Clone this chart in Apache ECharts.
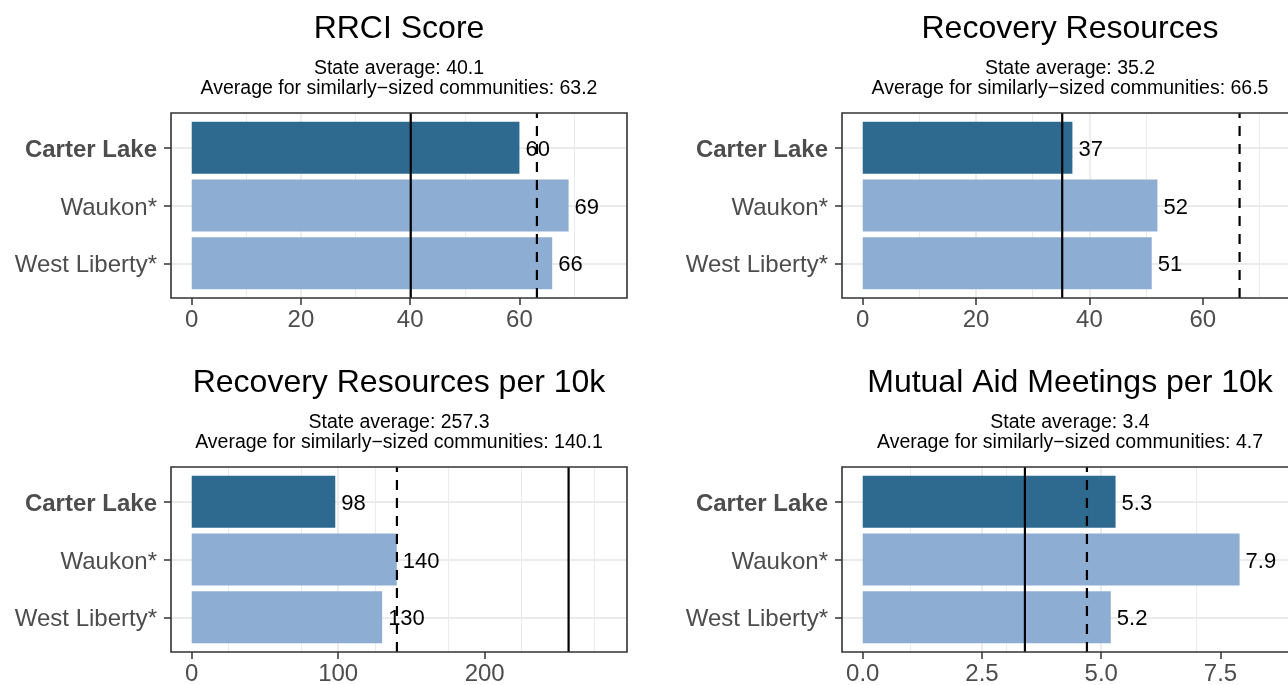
<!DOCTYPE html>
<html>
<head>
<meta charset="utf-8">
<script src="https://cdn.jsdelivr.net/npm/echarts@6/dist/echarts.min.js"></script>
<style>
  html, body { margin: 0; padding: 0; background: #fff; }
  #chart { width: 1288px; height: 685px; }
</style>
</head>
<body>
<div id="chart"></div>
<script>
// communities, Carter Lake is the highlighted one
const categories = ["Carter Lake", "Waukon*", "West Liberty*"];

// bar values per panel
const rrciScore = [60, 69, 66];
const recoveryResources = [37, 52, 51];
const resourcesPer10k = [98, 140, 130];
const meetingsPer10k = [5.3, 7.9, 5.2];

// reference lines (solid = state, dashed = similarly-sized)
const stateAverages = [40.1, 35.2, 257.3, 3.4];
const similarAverages = [63.2, 66.5, 140.1, 4.7];

const panelTitles = [
  "RRCI Score",
  "Recovery Resources",
  "Recovery Resources per 10k",
  "Mutual Aid Meetings per 10k"
];

// x tick labels
const ticks = [
  [0, 20, 40, 60],
  [0, 20, 40, 60],
  [0, 100, 200],
  [0, 2.5, 5, 7.5]
];
const tickDecimals = [0, 0, 0, 1];

const panelValues = [rrciScore, recoveryResources, resourcesPer10k, meetingsPer10k];

const FONT = "Liberation Sans, Arial, Helvetica, sans-serif";
const DARK = "#2e6a8f";
const LIGHT = "#8daed2";
const GRIDLINE = "#ebebeb";
const AXIS_TEXT = "#4d4d4d";

// panel boxes (px), right column runs past the canvas edge like the original
const colLeft = [171, 842];
const rowTop = [113, 467];
const boxW = 456;
const boxH = 185;
const catUnit = boxH / 3.2;

let grids = [], xAxes = [], yAxes = [], series = [], titles = [];

panelValues.forEach(function (vals, i) {
  const left = colLeft[i % 2];
  const top = rowTop[Math.floor(i / 2)];
  const lim = 1.1 * Math.max.apply(null, vals.concat([stateAverages[i], similarAverages[i]]));
  const xmin = -0.05 * lim;
  const xmax = 1.05 * lim;
  const dec = tickDecimals[i];

  titles.push({
    text: panelTitles[i],
    subtext: "State average: " + stateAverages[i].toFixed(1) +
      "\nAverage for similarly\u2212sized communities: " + similarAverages[i].toFixed(1),
    left: left + boxW / 2,
    top: top - 100,
    textAlign: "center",
    itemGap: 14,
    padding: 0,
    textStyle: { fontFamily: FONT, fontSize: 32, fontWeight: "normal", color: "#000" },
    subtextStyle: { fontFamily: FONT, fontSize: 19.5, color: "#000", lineHeight: 20 }
  });

  // frame grid: border, x ticks, vertical gridlines, average lines
  grids.push({
    left: left, top: top, width: boxW, height: boxH,
    show: true, borderColor: "#333", borderWidth: 1.6, z: 10,
    backgroundColor: "transparent",
    outerBoundsMode: "none", containLabel: false
  });
  // bar grid: category rows inset like ggplot's discrete expansion
  grids.push({
    left: left, top: top + 0.6 * catUnit, width: boxW, height: 2 * catUnit,
    outerBoundsMode: "none", containLabel: false
  });

  xAxes.push({
    type: "value", gridIndex: 2 * i, min: xmin, max: xmax,
    axisLine: { show: false, onZero: false },
    axisTick: {
      show: true, length: 7, customValues: ticks[i],
      lineStyle: { color: "#333", width: 1.5 }
    },
    axisLabel: {
      customValues: ticks[i], margin: 10,
      fontFamily: FONT, fontSize: 24, color: AXIS_TEXT,
      formatter: function (v) { return Number(v).toFixed(dec); }
    },
    splitLine: { show: true, showMinLine: false, showMaxLine: false, lineStyle: { color: GRIDLINE, width: 1.8 } },
    minorTick: { show: false, splitNumber: 2 },
    minorSplitLine: { show: true, lineStyle: { color: GRIDLINE, width: 1 } }
  });
  xAxes.push({
    type: "value", gridIndex: 2 * i + 1, min: xmin, max: xmax, show: false
  });

  yAxes.push({ type: "value", gridIndex: 2 * i, min: 0, max: 1, show: false });
  yAxes.push({
    type: "category", gridIndex: 2 * i + 1, data: categories,
    inverse: true, boundaryGap: false,
    axisLine: { show: false, onZero: false },
    axisTick: { show: true, length: 7, lineStyle: { color: "#333", width: 1.5 } },
    axisLabel: {
      margin: 14, fontFamily: FONT, fontSize: 24, color: AXIS_TEXT,
      padding: [5, 0, 0, 0],
      formatter: function (v, idx) { return idx === 0 ? "{b|" + v + "}" : v; },
      rich: { b: { fontFamily: FONT, fontSize: 24, fontWeight: "bold", color: AXIS_TEXT } }
    },
    splitLine: { show: true, lineStyle: { color: GRIDLINE, width: 1.8 } }
  });

  series.push({
    type: "bar",
    xAxisIndex: 2 * i + 1, yAxisIndex: 2 * i + 1,
    data: vals,
    barWidth: 0.9 * catUnit,
    clip: false,
    z: 2,
    itemStyle: {
      color: function (p) { return p.dataIndex === 0 ? DARK : LIGHT; }
    },
    label: {
      show: true, position: "right", distance: 6, offset: [0, 2],
      fontFamily: FONT, fontSize: 22, color: "#000",
      formatter: function (p) { return String(p.value); }
    }
  });
  series.push({
    type: "line", xAxisIndex: 2 * i, yAxisIndex: 2 * i,
    data: [[stateAverages[i], 0], [stateAverages[i], 1]],
    symbol: "none", silent: true, z: 5,
    lineStyle: { color: "#000", width: 2.2 }
  });
  series.push({
    type: "line", xAxisIndex: 2 * i, yAxisIndex: 2 * i,
    data: [[similarAverages[i], 0], [similarAverages[i], 1]],
    symbol: "none", silent: true, z: 5,
    lineStyle: { color: "#000", width: 2.2, type: [10, 8] }
  });
});

const chart = echarts.init(document.getElementById("chart"));
chart.setOption({
  animation: false,
  backgroundColor: "#fff",
  title: titles,
  grid: grids,
  xAxis: xAxes,
  yAxis: yAxes,
  series: series
});
</script>
</body>
</html>
